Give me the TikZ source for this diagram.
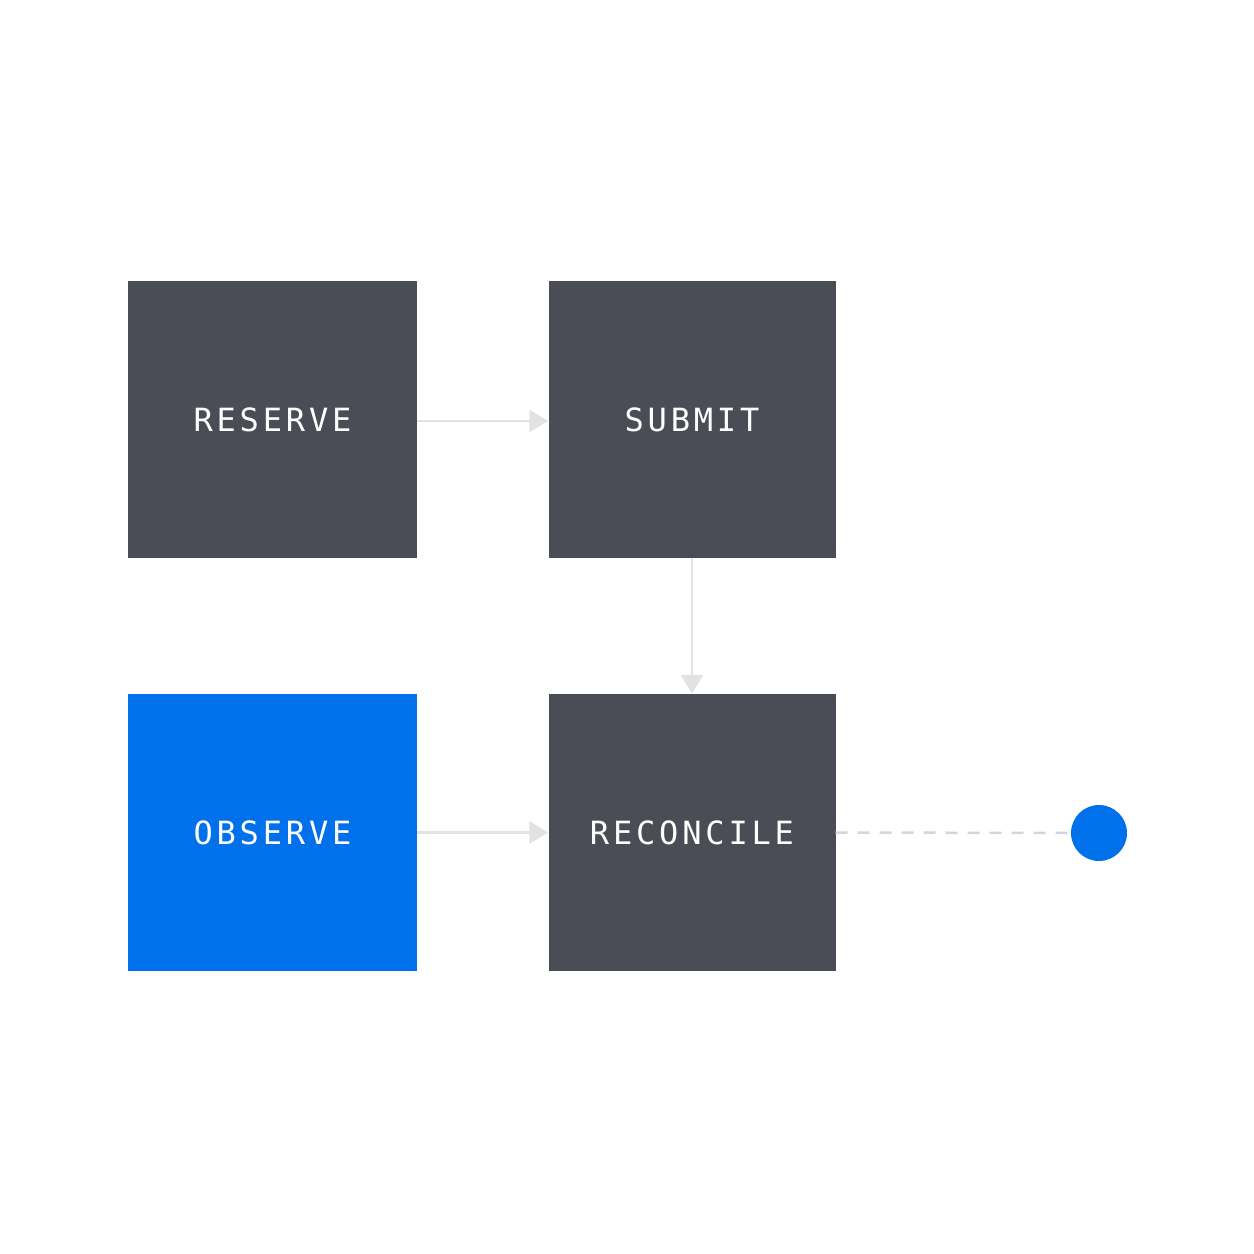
\documentclass[tikz,border=0pt]{standalone}
\usepackage{fontspec}
\newfontfamily\boxfont[LetterSpace=12]{DejaVu Sans Mono}
\usetikzlibrary{arrows.meta}
\definecolor{boxgray}{HTML}{4A4D55}
\definecolor{boxblue}{HTML}{0070EB}
\definecolor{arrowgray}{HTML}{E2E2E4}
\definecolor{dashgray}{HTML}{D2D6DE}
\begin{document}
\begin{tikzpicture}[x=1pt,y=-1pt,
  stepbox/.style={fill=boxgray, minimum width=289pt, minimum height=277pt, inner sep=0pt,
    text=white, font=\boxfont\fontsize{32}{32}\selectfont},
  flow/.style={draw=arrowgray, line width=2.5pt, -{Triangle[length=19pt,width=22pt,fill=arrowgray]}}]
\useasboundingbox (0,0) rectangle (1254,1254);
\node[stepbox] (reserve) at (272.5,419.5) {RESERVE};
\node[stepbox, minimum width=287pt] (submit) at (692,419.5) {SUBMIT};
\node[stepbox, fill=boxblue] (observe) at (272.5,832.5) {OBSERVE};
\node[stepbox, minimum width=287pt] (reconcile) at (692,832.5) {RECONCILE};
\node[circle, fill=boxblue, minimum size=56pt, inner sep=0pt] (dot) at (1099,833) {};
\draw[flow] ([yshift=-1.5pt]reserve.east) -- ([yshift=-1.5pt]submit.west);
\draw[flow] (submit.south) -- (reconcile.north);
\draw[flow] (observe.east) -- (reconcile.west);
\draw[draw=dashgray, line width=2.5pt, dash pattern=on 12pt off 10pt] (reconcile.east) -- (dot.west);
\end{tikzpicture}
\end{document}
